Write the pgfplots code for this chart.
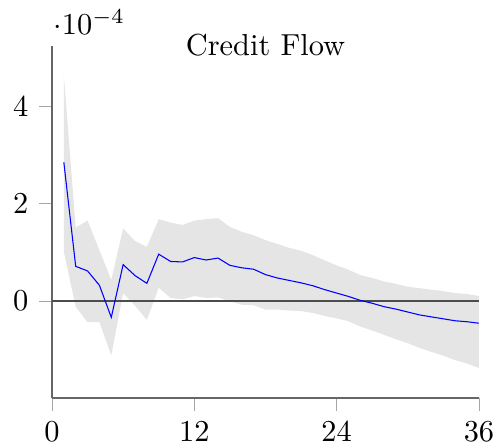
\documentclass[border=0pt]{standalone}
\usepackage{pgfplots}
\pgfplotsset{compat=1.18}
\usepackage{pgfplotstable}
\usepgfplotslibrary{fillbetween}

\pgfplotstableread{
t lo mid hi
1 1.01e-4 2.85e-4 4.64e-4
2 -0.12e-4 0.71e-4 1.51e-4
3 -0.44e-4 0.615e-4 1.65e-4
4 -0.44e-4 0.32e-4 1.04e-4
5 -1.12e-4 -0.34e-4 0.43e-4
6 0.16e-4 0.745e-4 1.49e-4
7 -0.10e-4 0.52e-4 1.23e-4
8 -0.39e-4 0.36e-4 1.11e-4
9 0.27e-4 0.96e-4 1.68e-4
10 0.06e-4 0.81e-4 1.61e-4
11 0.03e-4 0.80e-4 1.56e-4
12 0.10e-4 0.89e-4 1.65e-4
13 0.06e-4 0.84e-4 1.68e-4
14 0.07e-4 0.88e-4 1.70e-4
15 -0.01e-4 0.73e-4 1.52e-4
16 -0.08e-4 0.68e-4 1.42e-4
17 -0.09e-4 0.65e-4 1.35e-4
18 -0.18e-4 0.54e-4 1.25e-4
19 -0.18e-4 0.47e-4 1.17e-4
20 -0.20e-4 0.42e-4 1.09e-4
21 -0.21e-4 0.37e-4 1.03e-4
22 -0.25e-4 0.31e-4 0.94e-4
23 -0.31e-4 0.23e-4 0.83e-4
24 -0.36e-4 0.16e-4 0.73e-4
25 -0.42e-4 0.09e-4 0.64e-4
26 -0.53e-4 0.01e-4 0.53e-4
27 -0.61e-4 -0.05e-4 0.47e-4
28 -0.70e-4 -0.12e-4 0.40e-4
29 -0.79e-4 -0.17e-4 0.35e-4
30 -0.87e-4 -0.23e-4 0.29e-4
31 -0.97e-4 -0.29e-4 0.26e-4
32 -1.05e-4 -0.33e-4 0.23e-4
33 -1.13e-4 -0.37e-4 0.20e-4
34 -1.22e-4 -0.41e-4 0.16e-4
35 -1.29e-4 -0.43e-4 0.14e-4
36 -1.38e-4 -0.46e-4 0.10e-4
}\irf

\begin{document}
\begin{tikzpicture}
\begin{axis}[
  name=ax,
  scale only axis,
  width=140.5pt, height=116pt,
  axis x line=bottom, axis y line=left,
  axis line style={black!60, -},
  tick style={black!35},
  tick align=outside,
  xmin=0, xmax=36, ymin=-2e-4, ymax=5.25e-4,
  xtick={0,12,24,36},
  ytick={0,2e-4,4e-4},
  every y tick scale label/.append style={xshift=-2.7pt},
  title={Credit Flow},
  every axis title shift=0pt,
  title style={at={(0.5,1)}, anchor=center},
]
\addplot[name path=hi, draw=none, forget plot] table[x=t, y=hi] {\irf};
\addplot[name path=lo, draw=none, forget plot] table[x=t, y=lo] {\irf};
\addplot[fill=black!10, draw=none] fill between[of=hi and lo];
\addplot[black!70, line width=0.5pt] coordinates {(0,0) (36,0)};
\addplot[blue, line width=0.35pt] table[x=t, y=mid] {\irf};
\end{axis}
\pgfresetboundingbox
\useasboundingbox ([shift={(-17.1pt,-15.4pt)}]ax.south west) rectangle ([shift={(5.6pt,15pt)}]ax.north east);
\end{tikzpicture}
\end{document}
